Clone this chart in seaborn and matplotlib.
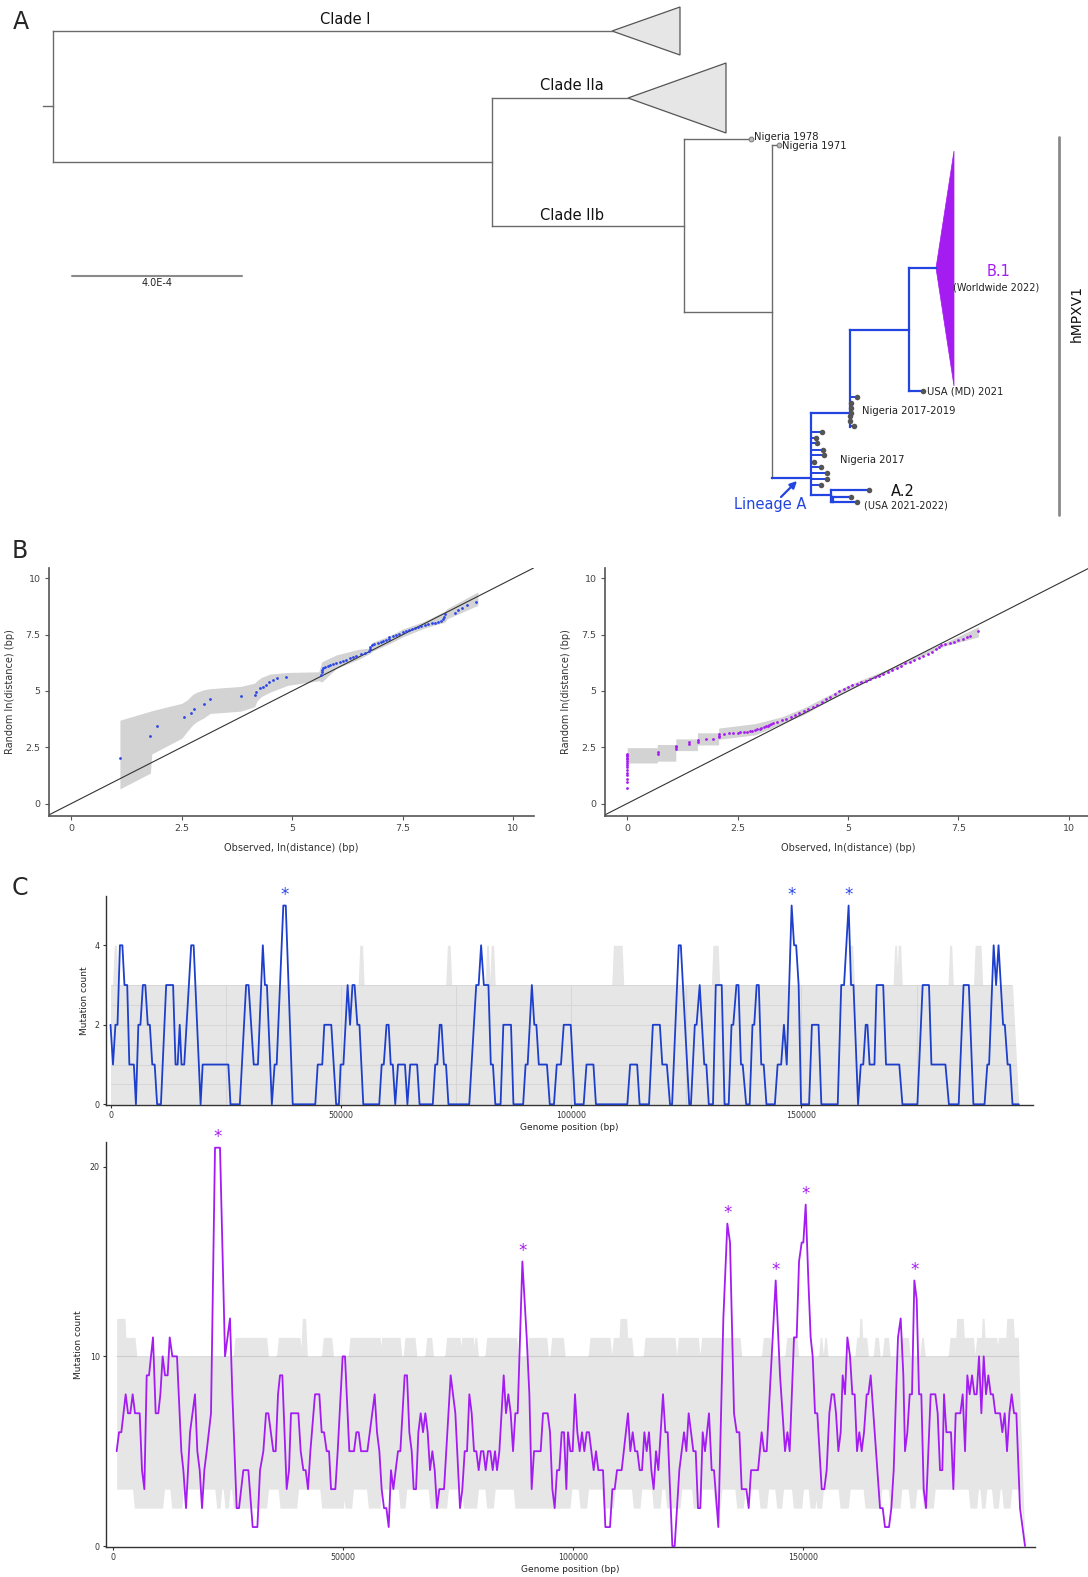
import numpy as np
import pandas as pd
import matplotlib
matplotlib.use("Agg")
import matplotlib.pyplot as plt
from matplotlib.collections import LineCollection
from matplotlib.patches import Polygon
import seaborn as sns

# ============================ DATA ============================
# ---- Panel A: tree layout (x = distance units of the drawing, y = leaf order) ----
tree_grey_edges = [
    (43, 106, 53, 106), (53, 31, 53, 162), (53, 31, 612, 31), (53, 162, 492, 162),
    (492, 98, 492, 226), (492, 98, 628, 98), (492, 226, 684, 226),
    (684, 139, 684, 312), (684, 139, 751, 139), (684, 312, 772, 312),
    (772, 145, 772, 478), (772, 145, 779, 145),
]
tree_blue_edges = [
    (772, 478, 811, 478), (811, 413, 811, 495), (811, 413, 850, 413),
    (850, 330, 850, 427), (850, 330, 909, 330), (909, 268, 909, 391),
    (909, 268, 936, 268), (909, 391, 923, 391),
    (811, 495, 831, 495), (831, 490, 831, 502), (831, 490, 869, 490),
    (831, 502, 833, 502), (833, 497, 833, 502), (833, 497, 851, 497), (833, 502, 857, 502),
]
collapsed_clades = {"Clade I": [(612, 31), (680, 7), (680, 55)],
                    "Clade IIa": [(628, 98), (726, 63), (726, 133)]}
b1_triangle = [(936, 268), (954, 151), (954, 386)]
nig1719_tip_x = [857, 851, 851, 851, 850, 850, 854]
nig1719_tip_y = [397, 403, 408, 413, 416, 421, 426]
nig17_tip_x = [822, 816, 817, 823, 824, 814, 821, 827, 827, 821]
nig17_tip_y = [432, 438, 443, 450, 455, 462, 467, 473, 479, 485]
other_tip_x = [923, 869, 851, 857]
other_tip_y = [391, 490, 497, 502]
old_tip_x = [751, 779]
old_tip_y = [139, 145]

# ---- Panel B: QQ plots ----
bL_obs = [1.10, 1.79, 1.95, 2.56, 2.71, 2.77, 3.00, 3.14, 3.83, 4.15, 4.19, 4.27, 4.33, 4.40,
          4.47, 4.57, 4.66, 4.86, 5.66, 5.67, 5.68, 5.70, 5.75, 5.80, 5.86, 5.92, 6.00, 6.08,
          6.15, 6.22, 6.30, 6.38, 6.45, 6.55, 6.65, 6.74, 6.75, 6.76, 6.80, 6.86, 6.93, 7.00,
          7.05, 7.12, 7.18, 7.20, 7.27, 7.35, 7.42, 7.50, 7.57, 7.64, 7.71, 7.78, 7.85, 7.92,
          8.00, 8.08, 8.16, 8.24, 8.30, 8.36, 8.42, 8.44, 8.45, 8.68, 8.75, 8.85, 8.95, 9.15]
bL_rand = [2.03, 2.99, 3.45, 3.82, 4.03, 4.19, 4.41, 4.62, 4.76, 4.81, 4.96, 5.11, 5.19, 5.26,
           5.41, 5.48, 5.56, 5.60, 5.72, 5.85, 5.95, 6.02, 6.08, 6.12, 6.15, 6.18, 6.22, 6.28,
           6.33, 6.38, 6.45, 6.50, 6.55, 6.62, 6.70, 6.78, 6.88, 6.95, 7.02, 7.07, 7.12, 7.17,
           7.22, 7.25, 7.30, 7.40, 7.45, 7.50, 7.55, 7.60, 7.65, 7.70, 7.74, 7.78, 7.83, 7.88,
           7.92, 7.97, 8.00, 8.03, 8.06, 8.10, 8.18, 8.30, 8.42, 8.45, 8.58, 8.70, 8.80, 8.97]
bL_band_x = [1.10, 1.79, 1.82, 2.50, 2.62, 2.75, 2.85, 3.00, 3.14, 3.83, 4.15, 4.20, 4.30, 4.50,
             4.90, 5.60, 5.67, 6.00, 6.50, 6.74, 6.80, 7.20, 7.50, 8.00, 8.45, 8.50, 9.20]
bL_band_lo = [0.65, 1.35, 2.20, 2.90, 3.20, 3.50, 3.65, 3.80, 4.00, 4.10, 4.30, 4.55, 4.75, 4.95,
              5.25, 5.45, 5.40, 6.00, 6.40, 6.65, 6.75, 7.10, 7.40, 7.80, 8.05, 8.20, 8.80]
bL_band_hi = [3.70, 4.10, 4.12, 4.45, 4.60, 4.85, 4.95, 5.05, 5.10, 5.20, 5.35, 5.45, 5.60, 5.75,
              5.82, 5.85, 6.30, 6.60, 6.85, 6.90, 7.15, 7.45, 7.75, 8.10, 8.55, 8.65, 9.40]

bR_obs = [0, 0, 0, 0, 0, 0, 0, 0, 0, 0, 0, 0, 0, 0, 0, 0.69, 0.69, 1.10, 1.10, 1.10, 1.39, 1.39,
          1.61, 1.61, 1.79, 1.95, 2.08, 2.08, 2.08, 2.20, 2.30, 2.40, 2.50, 2.56, 2.64, 2.71,
          2.77, 2.83, 2.89, 2.94, 3.00, 3.04, 3.09, 3.14, 3.18, 3.22, 3.26, 3.30, 3.40, 3.50,
          3.60, 3.70, 3.80, 3.90, 4.00, 4.10, 4.20, 4.30, 4.40, 4.50, 4.60, 4.70, 4.80, 4.90,
          5.00, 5.10, 5.20, 5.30, 5.40, 5.50, 5.60, 5.70, 5.80, 5.90, 6.00, 6.10, 6.20, 6.30,
          6.40, 6.50, 6.60, 6.70, 6.80, 6.90, 7.00, 7.05, 7.10, 7.20, 7.30, 7.40, 7.50, 7.60,
          7.70, 7.75, 7.95]
bR_rand = [0.70, 0.95, 1.10, 1.25, 1.36, 1.50, 1.60, 1.70, 1.80, 1.90, 1.96, 2.03, 2.10, 2.15,
           2.20, 2.20, 2.30, 2.40, 2.50, 2.55, 2.65, 2.72, 2.75, 2.82, 2.87, 2.87, 2.95, 3.02,
           3.08, 3.10, 3.12, 3.13, 3.15, 3.16, 3.17, 3.19, 3.20, 3.24, 3.28, 3.30, 3.33, 3.37,
           3.40, 3.43, 3.46, 3.50, 3.53, 3.56, 3.63, 3.70, 3.77, 3.85, 3.93, 4.02, 4.10, 4.19,
           4.28, 4.38, 4.50, 4.62, 4.75, 4.88, 5.00, 5.10, 5.18, 5.26, 5.33, 5.40, 5.46, 5.53,
           5.60, 5.68, 5.75, 5.84, 5.94, 6.03, 6.12, 6.22, 6.30, 6.38, 6.46, 6.54, 6.64, 6.74,
           6.86, 6.95, 7.03, 7.08, 7.13, 7.19, 7.25, 7.32, 7.40, 7.45, 7.65]
bR_band_x = [0.00, 0.68, 0.68, 1.10, 1.10, 1.59, 1.59, 2.07, 2.07, 2.90, 3.50, 4.00, 4.50, 5.00,
             6.00, 7.00, 7.20, 7.95]
bR_band_lo = [1.80, 1.80, 1.88, 1.88, 2.35, 2.35, 2.60, 2.60, 2.85, 3.05, 3.55, 3.95, 4.50, 5.05,
              5.90, 6.85, 7.00, 7.40]
bR_band_hi = [2.48, 2.48, 2.62, 2.62, 2.87, 2.87, 3.14, 3.14, 3.35, 3.55, 3.85, 4.25, 4.75, 5.25,
              6.05, 7.00, 7.15, 7.85]
b_ticks = [0, 2.5, 5, 7.5, 10]
b_ticklabels = ["0", "2.5", "5", "7.5", "10"]

# ---- Panel C (top): Lineage A mutation count ----
top_pos = [0, 540, 1070, 1520, 2050, 2580, 3030, 3630, 4090, 5070,
           5520, 6050, 6500, 7030, 7560, 8090, 8540, 9070, 9590, 10120,
           10950, 12090, 13590, 14120, 14580, 15030, 15410, 16010, 17520, 18050,
           19560, 20010, 25590, 26050, 28080, 29440, 29970, 31100, 32010, 33070,
           33520, 33960, 35030, 35630, 36080, 37520, 38050, 39560, 44460, 44990,
           45970, 46420, 47930, 48460, 48990, 49590, 49970, 50570, 51480, 52010,
           52540, 52990, 53590, 54050, 54880, 58350, 58880, 59330, 59930, 60390,
           60840, 61290, 61820, 62420, 63930, 64460, 65070, 66570, 67100, 69970,
           70500, 70950, 71480, 71860, 72390, 72840, 73370, 77890, 79400, 79930,
           80460, 81060, 82050, 82570, 83030, 83550, 84690, 85290, 86950, 87480,
           89590, 90120, 90570, 91480, 92010, 92460, 92990, 94760, 95370, 96280,
           96890, 97800, 98400, 99920, 100830, 102730, 103340, 104850, 105390, 112210,
           112820, 114340, 114870, 116920, 117750, 119270, 119800, 120790, 121470, 121930,
           123370, 123820, 125650, 126020, 126860, 127240, 127920, 128910, 129360, 129890,
           130810, 131410, 132700, 133310, 134220, 134830, 135210, 135890, 136340, 136880,
           137250, 138010, 138770, 139380, 139760, 140290, 140750, 141280, 141810, 142410,
           144240, 144840, 145600, 146210, 146820, 147880, 148410, 148860, 149400, 149930,
           151670, 152280, 153720, 154330, 157890, 158650, 159260, 160250, 160780, 161310,
           162300, 162900, 163430, 163960, 164340, 164800, 165860, 166320, 167760, 168370,
           171250, 171930, 175190, 176330, 177700, 178230, 181270, 182020, 184150, 185210,
           186350, 187340, 189760, 190370, 190750, 191740, 192270, 192800, 193790, 194160,
           194770, 195300, 195830, 197200]
top_count = [2, 1, 2, 2, 4, 4, 3, 3, 1, 1,
             0, 2, 2, 3, 3, 2, 2, 1, 1, 0,
             0, 3, 3, 1, 1, 2, 1, 1, 4, 4,
             0, 1, 1, 0, 0, 3, 3, 1, 1, 4,
             3, 3, 0, 1, 1, 5, 5, 0, 0, 1,
             1, 2, 2, 1, 0, 0, 1, 1, 3, 2,
             3, 3, 2, 2, 0, 0, 1, 1, 2, 2,
             1, 1, 0, 1, 1, 0, 1, 1, 0, 0,
             1, 1, 2, 2, 1, 1, 0, 0, 3, 3,
             4, 3, 3, 1, 1, 0, 0, 2, 2, 0,
             0, 1, 1, 3, 2, 2, 1, 1, 0, 0,
             1, 1, 2, 2, 0, 0, 1, 1, 0, 0,
             1, 1, 0, 0, 2, 2, 1, 1, 0, 0,
             4, 4, 0, 0, 2, 2, 3, 1, 1, 0,
             0, 3, 3, 0, 0, 2, 2, 3, 3, 1,
             1, 0, 0, 2, 2, 3, 3, 1, 1, 0,
             0, 1, 1, 2, 1, 5, 4, 4, 3, 0,
             0, 2, 2, 0, 0, 3, 3, 5, 3, 3,
             0, 1, 1, 2, 2, 1, 1, 3, 3, 1,
             1, 0, 0, 3, 3, 1, 1, 0, 0, 3,
             3, 0, 0, 1, 1, 4, 3, 4, 2, 2,
             1, 1, 0, 0]
top_star_pos = [37780, 147880, 160250]
top_star_count = [5, 5, 5]
top_env_base = 3
top_env_peak = 4
top_env_spikes = [(800, 1300), (54120, 54720), (73140, 73740), (81670, 82050), (82650, 83180),
                  (109180, 111080), (130800, 131940), (160630, 161160), (170260, 170640),
                  (171020, 171550), (182180, 182630), (187710, 189000)]
top_env_span = (0, 195830, 197200)

# ---- Panel C (bottom): B.1 mutation count ----
bot_pos = [733, 1240, 1750, 2690, 3200, 3700, 4210, 4720, 5730, 6240,
           6750, 7260, 7760, 8630, 9210, 9790, 10230, 10730, 11240, 11820,
           12260, 12840, 13850, 14790, 15230, 15810, 16680, 17760, 18270, 18780,
           19290, 19790, 20300, 21240, 22110, 23200, 24290, 25370, 25880, 26820,
           27330, 28270, 29360, 30300, 31320, 31900, 32620, 33200, 33710, 34790,
           35300, 35810, 36240, 36750, 37690, 38200, 38630, 40230, 40740, 41320,
           41820, 42330, 42840, 43850, 44790, 45300, 45810, 46390, 46900, 47330,
           48270, 48780, 49860, 50370, 51310, 52330, 52840, 53340, 53850, 55230,
           56820, 57330, 57840, 58340, 58850, 59360, 59870, 60370, 60880, 61390,
           61890, 62400, 63340, 63850, 64360, 64870, 65300, 65810, 66320, 66820,
           67330, 67840, 68340, 68850, 69360, 69870, 70370, 70880, 71900, 73340,
           74360, 75370, 75880, 76390, 76900, 77400, 77910, 78420, 78920, 79430,
           79940, 80450, 80950, 81460, 81970, 82480, 82980, 83420, 83930, 84870,
           85370, 85880, 86390, 86900, 87400, 87910, 88930, 89870, 90450, 90950,
           91460, 92910, 93420, 94430, 94940, 95450, 95950, 96460, 96970, 97480,
           97980, 98490, 98850, 99360, 99860, 100370, 100880, 101390, 101890, 102400,
           102910, 103420, 103920, 104430, 104940, 105440, 106460, 106970, 107980, 108490,
           109000, 109500, 110520, 111890, 112400, 112910, 113420, 113920, 114430, 114940,
           115450, 115950, 116460, 116970, 117470, 117980, 118490, 119500, 120010, 120520,
           121530, 122040, 123050, 124070, 124580, 125080, 126100, 126610, 127110, 127620,
           128130, 128630, 129500, 130080, 130590, 131530, 132620, 133490, 134070, 134940,
           135520, 136100, 136610, 137620, 138130, 138640, 140160, 140950, 141460, 142040,
           144000, 144940, 146030, 146540, 147040, 147980, 148560, 149070, 149650, 150010,
           150520, 151100, 151600, 152040, 152550, 153050, 154000, 154570, 155080, 155660,
           156170, 156680, 157110, 157620, 158130, 158560, 159070, 159580, 160160, 160660,
           161170, 161680, 162180, 162690, 163200, 163780, 164140, 164650, 165230, 166680,
           167260, 167760, 168630, 169140, 169650, 170160, 170590, 171170, 171750, 172110,
           172620, 173130, 173630, 174140, 174650, 175160, 175660, 176170, 176680, 177190,
           177690, 178710, 179210, 179720, 180230, 180590, 181100, 182110, 182620, 183130,
           184140, 184650, 185160, 185660, 186170, 186680, 187190, 187690, 188200, 188710,
           189220, 189720, 190230, 190740, 191240, 191750, 192770, 193270, 193780, 194290,
           194800, 195300, 195810, 196320, 197110, 198200]
bot_count = [5, 6, 6, 8, 7, 7, 8, 7, 7, 4,
             3, 9, 9, 11, 7, 7, 8, 10, 9, 9,
             11, 10, 10, 5, 4, 2, 6, 8, 5, 4,
             2, 4, 5, 7, 21, 21, 10, 12, 8, 2,
             2, 4, 4, 1, 1, 4, 5, 7, 7, 5,
             5, 8, 9, 9, 3, 4, 7, 7, 5, 4,
             4, 3, 5, 8, 8, 6, 6, 5, 5, 3,
             3, 5, 10, 10, 5, 5, 6, 6, 5, 5,
             8, 6, 5, 3, 2, 2, 1, 4, 3, 4,
             5, 5, 9, 9, 6, 5, 3, 3, 6, 7,
             6, 7, 6, 4, 5, 4, 2, 3, 3, 9,
             7, 2, 3, 5, 5, 8, 7, 5, 5, 4,
             5, 5, 4, 5, 5, 4, 5, 4, 5, 9,
             7, 8, 7, 5, 7, 7, 15, 11, 8, 3,
             5, 5, 7, 7, 6, 3, 2, 4, 4, 6,
             6, 3, 6, 5, 5, 8, 6, 5, 6, 5,
             6, 6, 5, 4, 5, 4, 4, 1, 1, 3,
             3, 4, 4, 7, 5, 6, 5, 5, 4, 4,
             6, 5, 6, 4, 3, 5, 4, 8, 6, 6,
             0, 0, 4, 6, 5, 7, 5, 5, 2, 2,
             6, 5, 7, 4, 4, 1, 12, 17, 16, 7,
             6, 6, 3, 3, 2, 4, 4, 6, 5, 5,
             14, 9, 5, 6, 5, 11, 11, 15, 16, 16,
             18, 14, 11, 10, 7, 7, 3, 3, 4, 7,
             8, 8, 7, 5, 6, 9, 8, 11, 10, 8,
             8, 5, 6, 5, 6, 8, 8, 9, 7, 2,
             2, 1, 1, 2, 4, 8, 11, 12, 9, 5,
             6, 8, 8, 14, 13, 8, 8, 3, 2, 5,
             8, 8, 7, 4, 4, 8, 6, 6, 3, 7,
             7, 8, 5, 9, 8, 9, 8, 8, 10, 7,
             10, 8, 9, 8, 8, 7, 7, 6, 7, 5,
             7, 8, 7, 7, 2, 0]
bot_star_pos = [22650, 88930, 133490, 144000, 150520, 174140]
bot_star_count = [21, 15, 17, 14, 18, 14]
bot_env_hi_base = 10
bot_env_hi_11 = [(730, 4720), (26460, 33340), (35880, 40590), (45660, 47480), (51460, 57980),
                 (58340, 62330), (63410, 65590), (68130, 69210), (72470, 75370), (75740, 78270),
                 (78630, 79000), (81170, 87690), (90230, 94220), (95300, 97840), (103630, 107980),
                 (108700, 112690), (115590, 122110), (122840, 127180), (127910, 136240),
                 (141310, 142760), (146400, 148600), (153700, 154000), (154700, 155000),
                 (161600, 163780), (165590, 166310), (167550, 168490), (171020, 172840),
                 (175740, 176100), (181900, 186970), (187690, 192040), (192400, 196750)]
bot_env_hi_12 = [(730, 2540), (41100, 41800), (110150, 111600), (162300, 162700),
                 (183340, 184790), (188900, 189300), (194220, 195660)]
bot_env_lo_base = 3
bot_env_lo_2 = [(4570, 10730), (12690, 14860), (22470, 23200), (24290, 25010), (26100, 33340),
                (36240, 39870), (45300, 50010), (50370, 51820), (55440, 57980), (62330, 63410),
                (68850, 72470), (76100, 78990), (81170, 82620), (87330, 99290), (101460, 102910),
                (106530, 108700), (113050, 114500), (117400, 118850), (120300, 123200),
                (126100, 127550), (130810, 131900), (135520, 136970), (140590, 142040),
                (144210, 145300), (147840, 149650), (151460, 152540), (152910, 153990),
                (157980, 159790), (163410, 166680), (168850, 171020), (173200, 174290),
                (176100, 178270), (186240, 187690), (188780, 189500), (191320, 192400),
                (193490, 194940)]
bot_env_span = (733, 196750, 198200)

c_xticks = [0, 50000, 100000, 150000]

# ============================ STYLE ============================
sns.set_theme(style="white")
plt.rcParams['font.family'] = ['DejaVu Sans']

W, H = 1088, 1577
fig = plt.figure(figsize=(W / 100, H / 100), dpi=100)


def px_axes(x0, y0, x1, y1):
    return fig.add_axes([x0 / W, 1 - y1 / H, (x1 - x0) / W, (y1 - y0) / H])


GREY_TREE = "#6b6b6b"
BLUE_TREE = "#2244e0"
PURPLE = "#a41cf0"
BLUE_LINE = "#1d3fcc"
TIP = "#555555"

# ============================ PANEL A ============================
axA = px_axes(0, 0, W, 530)
axA.set_xlim(0, W)
axA.set_ylim(530, 0)
axA.axis("off")

axA.add_collection(LineCollection([[(a, b), (c, d)] for a, b, c, d in tree_grey_edges],
                                  colors=GREY_TREE, linewidths=1.0, capstyle="projecting"))
axA.add_collection(LineCollection([[(a, b), (c, d)] for a, b, c, d in tree_blue_edges],
                                  colors=BLUE_TREE, linewidths=1.6, capstyle="projecting"))
segs = [[(850, y), (x, y)] for x, y in zip(nig1719_tip_x, nig1719_tip_y)]
segs += [[(811, y), (x, y)] for x, y in zip(nig17_tip_x, nig17_tip_y)]
axA.add_collection(LineCollection(segs, colors=BLUE_TREE, linewidths=1.4))
for name, pts in collapsed_clades.items():
    axA.add_patch(Polygon(pts, closed=True, facecolor="#e6e6e6", edgecolor="#555555", lw=0.9))
axA.add_patch(Polygon(b1_triangle, closed=True, facecolor=PURPLE, edgecolor=PURPLE, lw=0.5))

axA.scatter(nig1719_tip_x + nig17_tip_x + other_tip_x,
            nig1719_tip_y + nig17_tip_y + other_tip_y, s=16, color=TIP, zorder=5, linewidths=0)
axA.scatter(old_tip_x, old_tip_y, s=12, facecolor="#bbbbbb", edgecolor="#777777",
            linewidths=0.7, zorder=5)

axA.text(345, 20, "Clade I", ha="center", va="center", fontsize=10.5, color="#111")
axA.text(572, 86, "Clade IIa", ha="center", va="center", fontsize=10.5, color="#111")
axA.text(572, 215, "Clade IIb", ha="center", va="center", fontsize=10.5, color="#111")
axA.text(754, 137, "Nigeria 1978", ha="left", va="center", fontsize=7.2, color="#222")
axA.text(782, 146, "Nigeria 1971", ha="left", va="center", fontsize=7.2, color="#222")
axA.text(999, 272, "B.1", ha="center", va="center", fontsize=10.5, color=PURPLE)
axA.text(996, 287, "(Worldwide 2022)", ha="center", va="center", fontsize=7, color="#222")
axA.text(927, 391, "USA (MD) 2021", ha="left", va="center", fontsize=7.2, color="#222")
axA.text(862, 411, "Nigeria 2017-2019", ha="left", va="center", fontsize=7.2, color="#222")
axA.text(840, 460, "Nigeria 2017", ha="left", va="center", fontsize=7.2, color="#222")
axA.text(903, 491, "A.2", ha="center", va="center", fontsize=10.5, color="#111")
axA.text(906, 506, "(USA 2021-2022)", ha="center", va="center", fontsize=7, color="#222")
axA.text(770, 504, "Lineage A", ha="center", va="center", fontsize=10.5, color=BLUE_TREE)
axA.annotate("", xy=(797, 481), xytext=(781, 497),
             arrowprops=dict(arrowstyle="-|>", color=BLUE_TREE, lw=1.6,
                             shrinkA=0, shrinkB=0, mutation_scale=10))
axA.plot([1059, 1059], [137, 515], color="#8a8a8a", lw=2.0)
axA.text(1077, 313, "hMPXV1", rotation=90, ha="center", va="center", fontsize=10, color="#111")
axA.plot([72, 242], [276, 276], color="#8a8a8a", lw=1.5)
axA.text(157, 283, "4.0E-4", ha="center", va="center", fontsize=7, color="#222")

fig.text(21 / W, 1 - 22 / H, "A", fontsize=17, ha="center", va="center")
fig.text(20 / W, 1 - 551 / H, "B", fontsize=17, ha="center", va="center")
fig.text(20 / W, 1 - 888 / H, "C", fontsize=17, ha="center", va="center")


# ============================ PANEL B ============================
def style_b(ax):
    ax.set_xlim(-0.505, 10.47)
    ax.set_ylim(-0.555, 10.46)
    ax.set_xticks(b_ticks)
    ax.set_xticklabels(b_ticklabels)
    ax.set_yticks(b_ticks)
    ax.set_yticklabels(b_ticklabels)
    for s in ["top", "right"]:
        ax.spines[s].set_visible(False)
    for s in ["left", "bottom"]:
        ax.spines[s].set_color("#555555")
        ax.spines[s].set_linewidth(1.2)
    ax.tick_params(axis="both", length=3, width=0.8, color="#555555", labelsize=6.8,
                   labelcolor="#444444", pad=3, left=True, bottom=True)
    ax.set_xlabel("Observed, ln(distance) (bp)", fontsize=7, color="#333333", labelpad=7)
    ax.set_ylabel("Random ln(distance) (bp)", fontsize=7, color="#333333", labelpad=8)
    ax.axline((0, 0), slope=1, color="#333333", lw=0.8, zorder=1)
    ax.set_facecolor("white")


axBL = px_axes(49, 568, 534, 816)
axBL.fill_between(bL_band_x, bL_band_lo, bL_band_hi, color="#d3d3d3", lw=0, zorder=0)
sns.scatterplot(x=bL_obs, y=bL_rand, ax=axBL, color="#2a45e8", s=4, linewidth=0, zorder=3)
style_b(axBL)

axBR = px_axes(605, 568, 1091, 816)
axBR.fill_between(bR_band_x, bR_band_lo, bR_band_hi, color="#d3d3d3", lw=0, zorder=0)
sns.scatterplot(x=bR_obs, y=bR_rand, ax=axBR, color=PURPLE, s=4, linewidth=0, zorder=3)
style_b(axBR)
axBR.set_xlim(-0.503, 10.5)


# ============================ PANEL C ============================
def envelope(grid, base, intervals, level, ramp, fn):
    y = np.full(grid.shape, float(base))
    for a, b in intervals:
        t = np.clip(np.minimum((grid - (a - ramp)) / ramp, ((b + ramp) - grid) / ramp), 0, 1)
        y = fn(y, base + (level - base) * t)
    return y


def taper(grid, y, span):
    start, t0, t1 = span
    f = np.clip((t1 - grid) / (t1 - t0), 0, 1)
    return np.where(grid > t0, y * f, y)


def style_c(ax, yticks, xlim, ylim, ylabelpad):
    ax.set_xlim(*xlim)
    ax.set_ylim(*ylim)
    ax.set_xticks(c_xticks)
    ax.set_xticklabels([str(v) for v in c_xticks])
    ax.set_yticks(yticks)
    ax.set_yticklabels([str(v) for v in yticks])
    for s in ["top", "right"]:
        ax.spines[s].set_visible(False)
    for s in ["left", "bottom"]:
        ax.spines[s].set_color("#333333")
        ax.spines[s].set_linewidth(1.0)
    ax.tick_params(axis="both", length=2.5, width=0.8, color="#333333", labelsize=5.7,
                   labelcolor="#333333", pad=2, left=True, bottom=True)
    ax.set_xlabel("Genome position (bp)", fontsize=6.5, color="#222222", labelpad=2)
    ax.set_ylabel("Mutation count", fontsize=6.5, color="#222222", labelpad=ylabelpad)


def clipped_grid(ax, poly, hlines, vlines, xr, yr, color):
    path = poly.get_paths()[0]
    tr = poly.get_transform()
    for yv in hlines:
        ln, = ax.plot(xr, [yv, yv], color=color, lw=0.8, zorder=1)
        ln.set_clip_path(path, tr)
    for xv in vlines:
        ln, = ax.plot([xv, xv], yr, color=color, lw=0.8, zorder=1)
        ln.set_clip_path(path, tr)


# top
axC1 = px_axes(106, 896, 1033, 1105)
g1 = np.arange(top_env_span[0], top_env_span[2] + 1, 25.0)
hi1 = envelope(g1, top_env_base, top_env_spikes, top_env_peak, 350, np.maximum)
hi1 = taper(g1, hi1, top_env_span)
poly1 = axC1.fill_between(g1, np.zeros_like(g1), hi1, color="#e6e6e6", lw=0, zorder=0)
clipped_grid(axC1, poly1, [0.5, 1, 1.5, 2, 2.5, 3], [25000 * k for k in range(1, 8)],
             [0, 200000], [0, 5], "#d7d7d7")
dfC1 = pd.DataFrame({"pos": top_pos, "count": top_count})
sns.lineplot(data=dfC1, x="pos", y="count", ax=axC1, color=BLUE_LINE, lw=1.3,
             estimator=None, sort=False, zorder=3)
for xs, ys in zip(top_star_pos, top_star_count):
    axC1.annotate("*", (xs, ys), xytext=(0, 1), textcoords="offset points",
                  ha="center", va="bottom", fontsize=12, color="#2a45e8")
style_c(axC1, [0, 2, 4], (-977, 200282), (-0.018, 5.24), 4)

# bottom
axC2 = px_axes(106, 1142, 1035, 1547)
g2 = np.arange(bot_env_span[0], bot_env_span[2] + 1, 25.0)
hi2 = envelope(g2, bot_env_hi_base, bot_env_hi_11, 11, 400, np.maximum)
hi2 = np.maximum(hi2, envelope(g2, bot_env_hi_base, bot_env_hi_12, 12, 400, np.maximum))
lo2 = envelope(g2, bot_env_lo_base, bot_env_lo_2, 2, 400, np.minimum)
hi2 = taper(g2, hi2, bot_env_span)
lo2 = np.minimum(lo2, taper(g2, np.full_like(g2, bot_env_lo_base), (733, 197100, 198200)))
poly2 = axC2.fill_between(g2, lo2, hi2, color="#e6e6e6", lw=0, zorder=0)
clipped_grid(axC2, poly2, [10], [], [0, 200000], [0, 21], "#cccccc")
dfC2 = pd.DataFrame({"pos": bot_pos, "count": bot_count})
sns.lineplot(data=dfC2, x="pos", y="count", ax=axC2, color=PURPLE, lw=1.3,
             estimator=None, sort=False, zorder=3)
for xs, ys in zip(bot_star_pos, bot_star_count):
    axC2.annotate("*", (xs, ys), xytext=(0, 1), textcoords="offset points",
                  ha="center", va="bottom", fontsize=12, color=PURPLE)
style_c(axC2, [0, 10, 20], (-1587, 200370), (-0.05, 21.3), 5)

fig.savefig("out.png", dpi=100)
